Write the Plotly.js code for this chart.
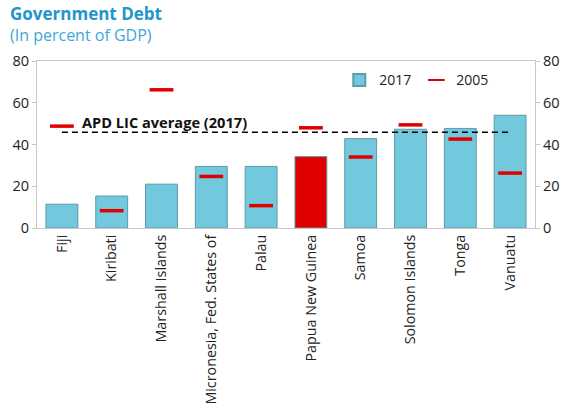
<!DOCTYPE html>
<html>
<head>
<meta charset="utf-8">
<script src="https://cdn.plot.ly/plotly-3.0.1.min.js"></script>
<style>html,body{margin:0;padding:0;background:#fff;}#chart{width:566px;height:409px;}</style>
</head>
<body>
<div id="chart"></div>
<script>
const categories = ["Fiji", "Kiribati", "Marshall Islands", "Micronesia, Fed. States of", "Palau", "Papua New Guinea", "Samoa", "Solomon Islands", "Tonga", "Vanuatu"];
const debt2017 = [11.4, 15.3, 21.0, 29.5, 29.5, 34.2, 42.8, 47.3, 47.7, 54.0];
const debt2005 = [48.8, 8.3, 66.2, 24.7, 10.7, 48.0, 34.0, 49.4, 42.6, 26.3];
const avgCategories = ["Fiji", "Vanuatu"];
const avgValues = [45.9, 45.9];
const avgLabel = "APD LIC average (2017)";
const yTicks = [0, 20, 40, 60, 80];

const blue = "#72C9DD";
const red = "#E00000";
const barColors = categories.map(c => c === "Papua New Guinea" ? red : blue);
const font = "'Open Sans', 'Noto Sans', sans-serif";

const traces = [
  {
    type: "bar", name: "2017", x: categories, y: debt2017,
    marker: {color: barColors, line: {color: "#5E9AA8", width: 1}},
    width: 0.64, hoverinfo: "x+y"
  },
  {
    type: "scatter", mode: "markers", name: "2005", x: categories, y: debt2005,
    marker: {symbol: "line-ew", size: 17, color: red, line: {color: red, width: 3.5}}
  },
  {
    type: "scatter", mode: "lines", name: "avg", x: avgCategories, y: avgValues,
    yaxis: "y2", showlegend: false,
    line: {color: "#000", width: 1.6, dash: "6px,4px"}
  }
];

const layout = {
  width: 566, height: 409,
  margin: {l: 37, r: 31, t: 61, b: 181},
  paper_bgcolor: "#fff", plot_bgcolor: "#fff",
  font: {family: font, size: 14, color: "#222"},
  showlegend: true,
  legend: {
    orientation: "h", x: 0.607, y: 0.98, xanchor: "left", yanchor: "top",
    font: {size: 14, color: "#222"}, bgcolor: "rgba(0,0,0,0)",
    itemwidth: 30, itemsizing: "constant", tracegroupgap: 0
  },
  xaxis: {
    type: "category", tickangle: -90, showline: true, linecolor: "#C8C8C8", linewidth: 1,
    mirror: true, ticks: "", showgrid: false, zeroline: false,
    tickfont: {size: 14.3, color: "#222"}, range: [-0.5, 9.5]
  },
  yaxis: {
    range: [0, 80], tickvals: yTicks, showgrid: false, zeroline: false,
    showline: true, linecolor: "#C8C8C8", ticks: "outside", ticklen: 4, tickcolor: "#C8C8C8",
    tickfont: {size: 14.5, color: "#222"}
  },
  yaxis2: {
    range: [0, 80], tickvals: yTicks, overlaying: "y", side: "right", showgrid: false, zeroline: false,
    showline: true, linecolor: "#C8C8C8", ticks: "outside", ticklen: 4, tickcolor: "#C8C8C8",
    tickfont: {size: 14.5, color: "#222"}
  },
  annotations: [
    {xref: "paper", yref: "paper", x: -0.058, y: 1.285, xanchor: "left", yanchor: "middle",
     text: "<b>Government Debt</b>", showarrow: false, font: {size: 17, color: "#1F95C9", family: font}},
    {xref: "paper", yref: "paper", x: -0.058, y: 1.155, xanchor: "left", yanchor: "middle",
     text: "(In percent of GDP)", showarrow: false, font: {size: 16, color: "#3FA6D8", family: font}},
    {xref: "x", yref: "y", x: avgCategories[0], y: 50.8, xanchor: "left", yanchor: "middle", xshift: 18,
     text: "<b>" + avgLabel + "</b>", showarrow: false, font: {size: 14.6, color: "#111", family: font}}
  ]
};

Plotly.newPlot("chart", traces, layout, {displayModeBar: false, staticPlot: true});
</script>
</body>
</html>
